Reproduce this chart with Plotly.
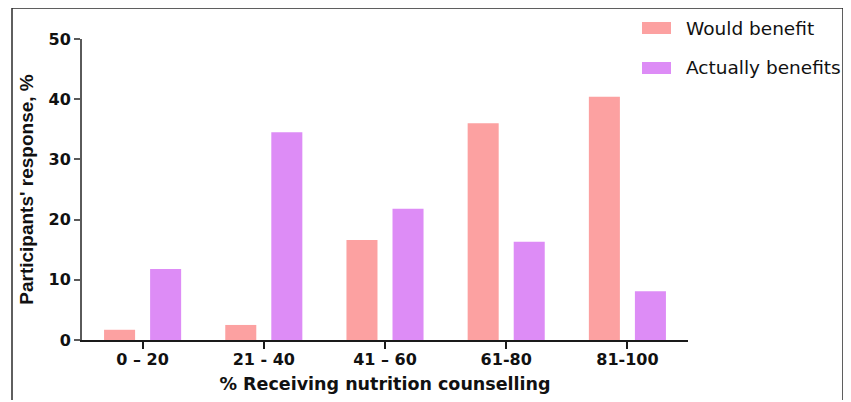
import plotly.graph_objects as go

categories = ["0 – 20", "21 - 40", "41 – 60", "61-80", "81-100"]
would_benefit = [1.7, 2.5, 16.6, 36.0, 40.4]
actually_benefits = [11.8, 34.5, 21.8, 16.3, 8.1]
series_names = ["Would benefit", "Actually benefits"]
colors = ["#FCA1A1", "#DD8CF6"]
y_ticks = [0, 10, 20, 30, 40, 50]

# page body has an 8px margin: figure is placed at (8, 8) on screen
OFF = 8
W, H = 851 - OFF, 402 - OFF
L, T = 82 - OFF, 39 - OFF
R = W - (688 - OFF)
B = H - (340 - OFF)
PW, PH = W - L - R, H - T - B

def px(x):  # screen px -> paper
    return (x - OFF - L) / PW

def py(y):
    return (H - B - (y - OFF)) / PH

fig = go.Figure()
fig.add_trace(go.Bar(x=categories, y=would_benefit, name=series_names[0],
                     marker=dict(color=colors[0], line=dict(width=0)),
                     width=0.256, offset=-0.318, showlegend=False))
fig.add_trace(go.Bar(x=categories, y=actually_benefits, name=series_names[1],
                     marker=dict(color=colors[1], line=dict(width=0)),
                     width=0.256, offset=0.062, showlegend=False))

shapes = []
frame_col = "#2a2a2a"
shapes.append(dict(type="line", xref="paper", yref="paper", x0=px(12), x1=px(843), y0=py(8), y1=py(8), line=dict(color=frame_col, width=1.5)))
shapes.append(dict(type="line", xref="paper", yref="paper", x0=px(12), x1=px(12), y0=py(8), y1=py(400), line=dict(color=frame_col, width=1.5)))
shapes.append(dict(type="line", xref="paper", yref="paper", x0=px(843), x1=px(843), y0=py(8), y1=py(400), line=dict(color=frame_col, width=1.5)))

annotations = []
legend_y = [28, 68]
for name, col, yc in zip(series_names, colors, legend_y):
    shapes.append(dict(type="rect", xref="paper", yref="paper", x0=px(642), x1=px(671),
                       y0=py(yc - 6), y1=py(yc + 6), fillcolor=col, line=dict(width=0)))
    annotations.append(dict(text=name, xref="paper", yref="paper", x=px(684), y=py(yc),
                            xanchor="left", yanchor="middle", showarrow=False,
                            font=dict(family="DejaVu Sans", size=18.5, color="#111111")))

fig.update_layout(
    width=W, height=H,
    margin=dict(l=L, r=R, t=T, b=B, pad=0),
    paper_bgcolor="white", plot_bgcolor="white",
    barmode="overlay",
    shapes=shapes, annotations=annotations,
    font=dict(family="DejaVu Sans", color="#111111"),
    xaxis=dict(type="category", range=[-0.5, 4.5], showgrid=False, zeroline=False,
               showline=True, linecolor="#1a1a1a", linewidth=2,
               ticks="outside", ticklen=7, tickwidth=2, tickcolor="#1a1a1a",
               ticklabelstandoff=-3,
               tickfont=dict(family="DejaVu Sans", size=16, color="#111111", weight="bold"),
               title=dict(text="% Receiving nutrition counselling", standoff=10,
                          font=dict(family="DejaVu Sans", size=17.5, color="#111111", weight="bold"))),
    yaxis=dict(range=[0, 50], tickvals=y_ticks, showgrid=False, zeroline=False,
               showline=True, linecolor="#5a5a5a", linewidth=2,
               ticks="outside", ticklen=6, tickwidth=2, tickcolor="#5a5a5a",
               tickfont=dict(family="DejaVu Sans", size=16, color="#111111", weight="bold"),
               title=dict(text="Participants' response, %", standoff=10,
                          font=dict(family="Liberation Sans", size=19, color="#111111", weight="bold"))),
)

fig.write_html("out.html")
